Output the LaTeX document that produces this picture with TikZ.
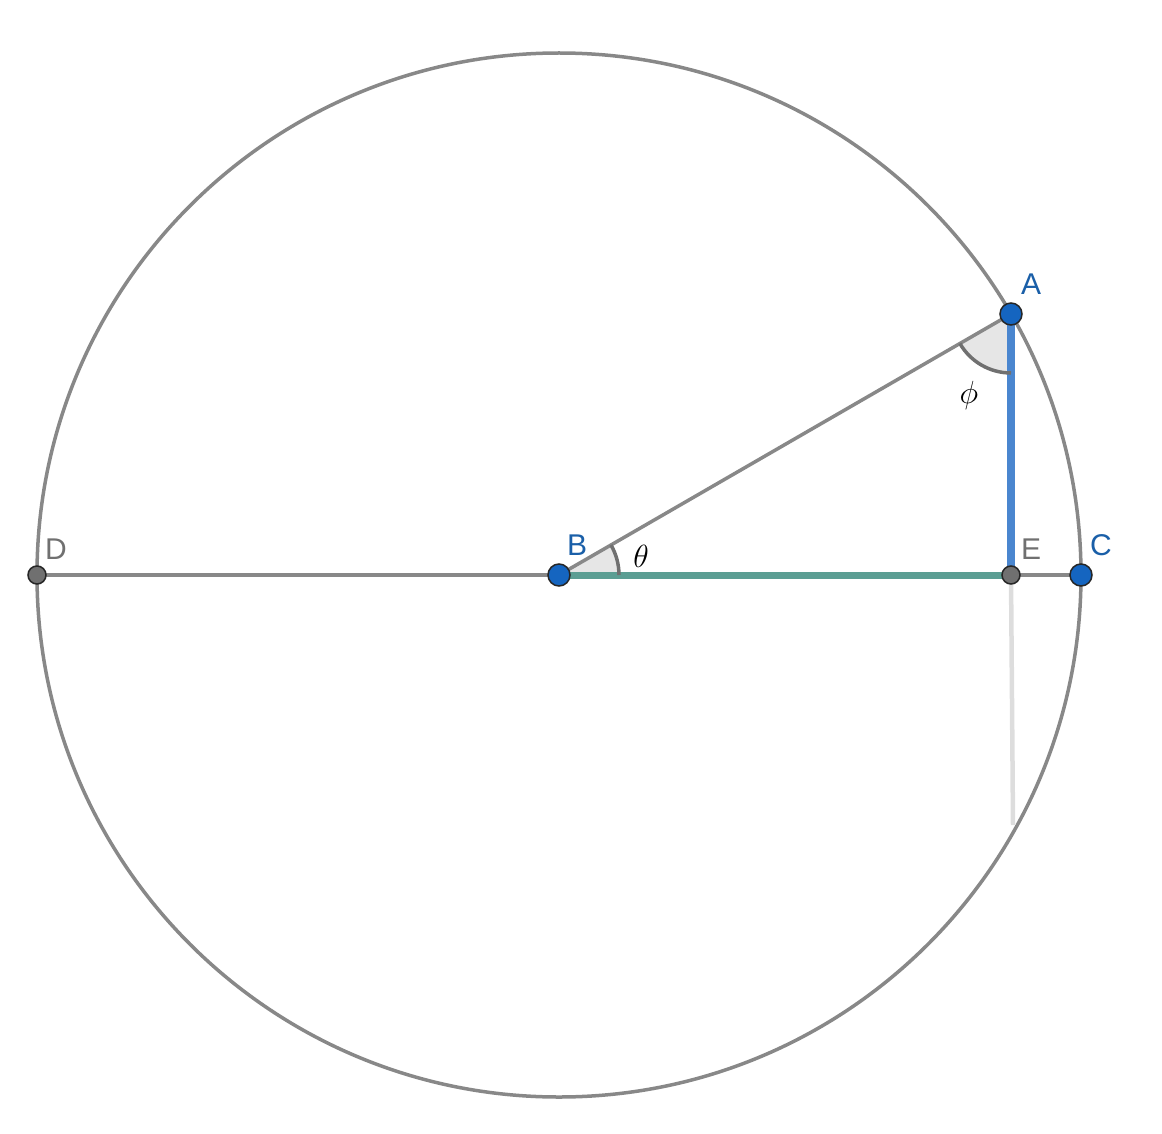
\RequirePackage{fix-cm}
\documentclass[tikz,border=0pt]{standalone}
\usepackage{fontspec}
\setsansfont{Liberation Sans}
\begin{document}
\begin{tikzpicture}[x=1pt,y=-1pt]
\definecolor{cgray}{HTML}{888888}
\definecolor{cdark}{HTML}{707070}
\definecolor{cblue}{HTML}{1565C0}
\definecolor{clab}{HTML}{1A5FA8}
\definecolor{cline}{HTML}{4A86CF}
\definecolor{cteal}{HTML}{5B9E93}
\definecolor{cfaint}{HTML}{DDDDDD}
\definecolor{cfill}{HTML}{E6E6E6}
\tikzset{
  geo/.style={draw=cgray, line width=3.5pt},
  bluept/.style={circle, fill=cblue, draw=black!85, line width=1.5pt, minimum size=22pt, inner sep=0pt},
  graypt/.style={circle, fill=cdark, draw=black!85, line width=1.5pt, minimum size=18pt, inner sep=0pt},
  bluelab/.style={text=clab, font=\sffamily\fontsize{30}{34}\selectfont, inner sep=0pt},
  graylab/.style={text=cdark, font=\sffamily\fontsize{30}{34}\selectfont, inner sep=0pt},
  anglab/.style={font=\fontsize{32}{36}\selectfont, inner sep=0pt},
  angarc/.style={draw=cdark, line width=3.5pt},
}
\useasboundingbox (0,0) rectangle (1162,1134);
\coordinate (B) at (559,575);
\coordinate (A) at (1011,314);
\coordinate (E) at (1011,575);
\coordinate (C) at (1081,575);
\coordinate (D) at (37,575);
\coordinate (F) at (1013,825);
% circle
\draw[geo] (B) circle[radius=522];
% faint line
\draw[cfaint, line width=4.5pt] (E) -- (F);
% angle fills
\fill[cfill] (B) -- ++(0:60) arc[start angle=0, end angle=-30, radius=60] -- cycle;
\fill[cfill] (A) -- ++(150:59) arc[start angle=150, end angle=90, radius=59] -- cycle;
% lines
\draw[geo] (D) -- (B);
\draw[geo] (B) -- (A);
\draw[geo] (E) -- (C);
\draw[cteal, line width=7pt] (B) -- (E);
\draw[cline, line width=8pt] (A) -- (E);
% angle arcs
\draw[angarc] (B) ++(0:60) arc[start angle=0, end angle=-30, radius=60];
\draw[angarc] (A) ++(150:59) arc[start angle=150, end angle=90, radius=59];
% points
\node[graypt] (Dp) at (D) {};
\node[graypt] (Ep) at (E) {};
\node[bluept] (Bp) at (B) {};
\node[bluept] (Cp) at (C) {};
\node[bluept] (Ap) at (A) {};
% labels
\node[bluelab] (LA) at (1031,284) {A};
\node[bluelab] (LB) at (577,545) {B};
\node[bluelab] (LC) at (1101,545) {C};
\node[graylab] (LD) at (56,549) {D};
\node[graylab] (LE) at (1031,549) {E};
\node[anglab] (Lt) at (641,556) {$\theta$};
\node[anglab] (Lp) at (969,395) {$\phi$};
\end{tikzpicture}
\end{document}
